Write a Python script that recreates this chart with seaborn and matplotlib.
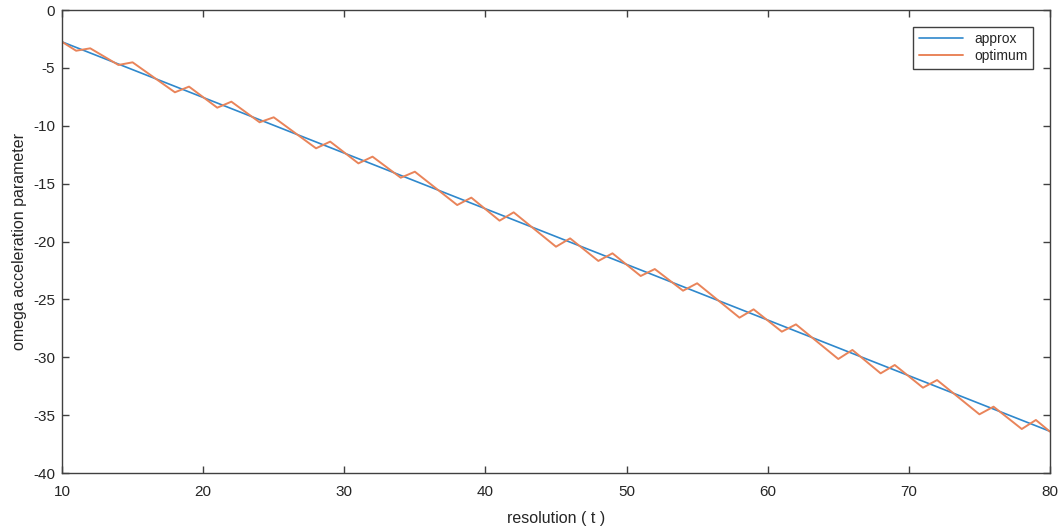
import matplotlib
matplotlib.use("Agg")
import matplotlib.pyplot as plt
import seaborn as sns
import pandas as pd

approx_t = [10, 80]
approx_v = [-2.75, -36.4]

opt_t = [10, 11, 12, 14, 15, 18, 19, 21, 22, 24, 25, 28, 29, 31, 32, 34, 35, 38, 39, 41, 42,
         45, 46, 48, 49, 51, 52, 54, 55, 58, 59, 61, 62, 65, 66, 68, 69, 71, 72, 75, 76, 78, 79, 80]
opt_v = [-2.75, -3.52, -3.31, -4.75, -4.52, -7.11, -6.62, -8.44, -7.92, -9.70, -9.27, -11.95,
         -11.37, -13.25, -12.67, -14.49, -13.97, -16.85, -16.21, -18.20, -17.48, -20.45, -19.73,
         -21.68, -21.02, -22.98, -22.38, -24.25, -23.61, -26.58, -25.86, -27.79, -27.16, -30.15,
         -29.37, -31.39, -30.67, -32.63, -31.97, -34.93, -34.27, -36.20, -35.42, -36.43]

x_ticks = [10, 20, 30, 40, 50, 60, 70, 80]
y_ticks = [0, -5, -10, -15, -20, -25, -30, -35, -40]

sns.set_theme(style="white")
plt.rcParams['font.family'] = ['Liberation Sans', 'DejaVu Sans']
plt.rcParams['axes.unicode_minus'] = False

fig = plt.figure(figsize=(10.62, 5.31), dpi=100)
ax = fig.add_axes([62/1062, 1-473/531, (1050-62)/1062, (473-10)/531])

df_a = pd.DataFrame({"t": approx_t, "v": approx_v})
df_o = pd.DataFrame({"t": opt_t, "v": opt_v})
sns.lineplot(data=df_a, x="t", y="v", ax=ax, color="#2F88CC", linewidth=1.2, label="approx")
sns.lineplot(data=df_o, x="t", y="v", ax=ax, color="#E9845A", linewidth=1.4, label="optimum")

ax.set_xlim(10, 80)
ax.set_ylim(-40, 0)
ax.set_xticks(x_ticks)
ax.set_yticks(y_ticks)
ax.set_xticklabels([str(v) for v in x_ticks])
ax.set_yticklabels([str(v) for v in y_ticks])
ax.tick_params(direction="in", length=5, width=1, color="#404040", labelsize=11,
               labelcolor="#262626", top=True, right=True, bottom=True, left=True, pad=5)
ax.tick_params(axis="x", pad=9)
for s in ax.spines.values():
    s.set_color("#404040")
    s.set_linewidth(1.0)
ax.set_xlabel("resolution ( t )", fontsize=11.5, color="#262626", labelpad=8)
ax.set_ylabel("omega acceleration parameter", fontsize=11.5, color="#262626", labelpad=4)

leg = ax.legend(loc="upper right", fontsize=10, frameon=True, fancybox=False,
                edgecolor="#404040", framealpha=1, borderaxespad=1.2,
                handlelength=3.2, borderpad=0.4, labelspacing=0.2)
leg.get_frame().set_linewidth(1.0)

fig.savefig("out.png", dpi=100)
